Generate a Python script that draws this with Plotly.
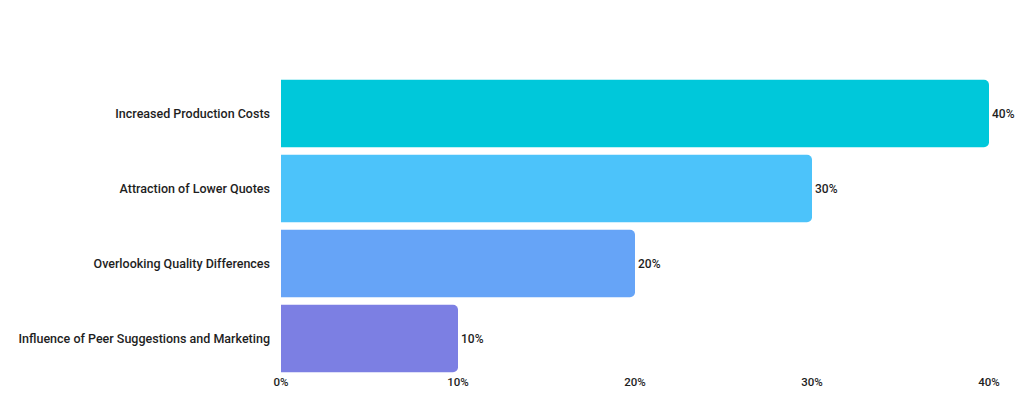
import plotly.graph_objects as go

categories = [
    "Increased Production Costs",
    "Attraction of Lower Quotes",
    "Overlooking Quality Differences",
    "Influence of Peer Suggestions and Marketing",
]
values = [40, 30, 20, 10]
bar_colors = ["#00C8DA", "#4CC3FA", "#66A4F7", "#7C7FE3"]
tick_vals = [0, 10, 20, 30, 40]
tick_text = ["0%", "10%", "20%", "30%", "40%"]

fig = go.Figure()

fig.add_trace(go.Bar(
    x=values,
    y=categories,
    orientation="h",
    marker=dict(color=bar_colors, line=dict(width=0)),
    text=[f"{v}%" for v in values],
    textposition="outside",
    textfont=dict(family="Roboto", size=12, color="#1e1e1e", weight=500),
    cliponaxis=False,
    hoverinfo="skip",
))

# page body has an 8px margin, so the paper is shrunk to fit the window
fig.update_layout(
    width=1016,
    height=405,
    margin=dict(l=273, r=35, t=68, b=37),
    paper_bgcolor="white",
    plot_bgcolor="white",
    bargap=0.1,
    barcornerradius=5,
    showlegend=False,
    font=dict(family="Roboto", size=12, color="#1e1e1e"),
    xaxis=dict(
        range=[0, 40],
        tickvals=tick_vals,
        ticktext=tick_text,
        showgrid=False,
        zeroline=False,
        showline=False,
        ticklabelstandoff=-3,
        tickfont=dict(family="Roboto", size=11.5, color="#1e1e1e", weight=500),
        fixedrange=True,
    ),
    yaxis=dict(
        autorange="reversed",
        showgrid=False,
        zeroline=False,
        showline=False,
        ticks="",
        ticklabelstandoff=10,
        tickfont=dict(family="Roboto", size=12.5, color="#1e1e1e", weight=500),
        fixedrange=True,
    ),
)

fig.write_html("out.html")
